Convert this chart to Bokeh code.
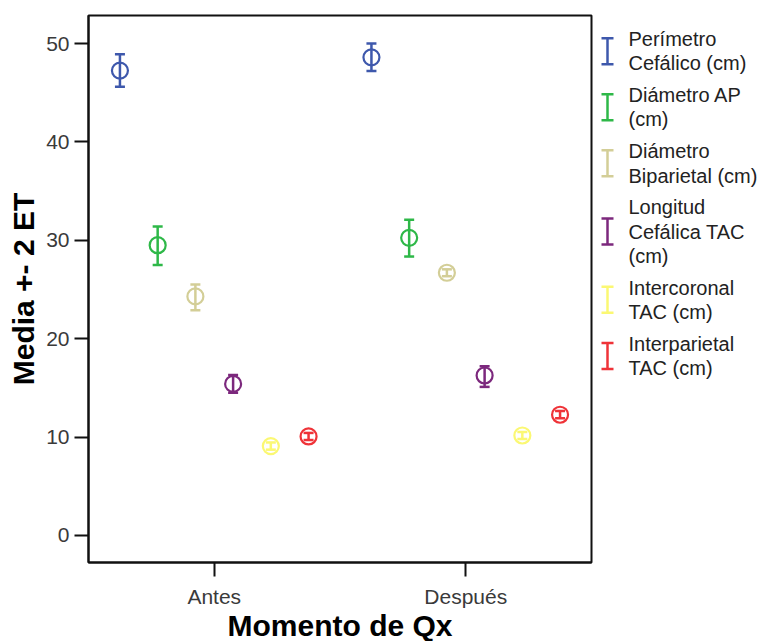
import numpy as np
from bokeh.plotting import figure
from bokeh.models import Range1d, Whisker, TeeHead, ColumnDataSource, FixedTicker
from bokeh.layouts import row, column
from bokeh.embed import file_html
from bokeh.resources import INLINE
from bokeh.core.properties import value

# ---- data ----
categories = ["Antes", "Después"]
series = ["Perímetro Cefálico (cm)", "Diámetro AP (cm)", "Diámetro Biparietal (cm)",
          "Longitud Cefálica TAC (cm)", "Intercoronal TAC (cm)", "Interparietal TAC (cm)"]
legend_lines = [["Perímetro", "Cefálico (cm)"], ["Diámetro AP", "(cm)"],
                ["Diámetro", "Biparietal (cm)"], ["Longitud", "Cefálica TAC", "(cm)"],
                ["Intercoronal", "TAC (cm)"], ["Interparietal", "TAC (cm)"]]
colors = ["#3E58AC", "#2EB848", "#D3CE97", "#7C287D", "#FBF873", "#EF3338"]

mean_antes = [47.25, 29.5, 24.3, 15.4, 9.08, 10.06]
low_antes = [45.6, 27.5, 22.9, 14.5, 8.72, 9.7]
high_antes = [48.9, 31.4, 25.5, 16.3, 9.45, 10.42]

mean_despues = [48.6, 30.25, 26.7, 16.26, 10.16, 12.27]
low_despues = [47.2, 28.35, 26.35, 15.1, 9.8, 11.9]
high_despues = [50.0, 32.1, 27.05, 17.2, 10.52, 12.64]

y_ticks = [0, 10, 20, 30, 40, 50]
x_title = "Momento de Qx"
y_title = "Media +- 2 ET"

FONT = "Liberation Sans"

# ---- layout constants (page pixels) ----
TOTAL_H = 641
TITLE_H = 31
PH = TOTAL_H - TITLE_H
FRAME_LEFT, FRAME_RIGHT = 88, 591
FRAME_TOP, FRAME_BOTTOM = 15, 562
PW = FRAME_RIGHT + 7

# ---- main plot ----
p = figure(width=PW, height=PH, x_range=Range1d(-0.5, 1.5), y_range=Range1d(-2.75, 52.85),
           toolbar_location=None, output_backend="svg",
           min_border_left=FRAME_LEFT, min_border_right=PW - FRAME_RIGHT,
           min_border_top=FRAME_TOP, min_border_bottom=PH - FRAME_BOTTOM)
p.grid.visible = False
p.outline_line_color = "#111111"
p.outline_line_width = 2
p.background_fill_color = "white"

offsets = (np.arange(len(series)) - (len(series) - 1) / 2) * 0.15
means = [mean_antes, mean_despues]
lows = [low_antes, low_despues]
highs = [high_antes, high_despues]

for i, (name, col) in enumerate(zip(series, colors)):
    xs = [c + offsets[i] for c in range(len(categories))]
    src = ColumnDataSource(dict(x=xs,
                                y=[means[c][i] for c in range(len(categories))],
                                lo=[lows[c][i] for c in range(len(categories))],
                                hi=[highs[c][i] for c in range(len(categories))]))
    w = Whisker(source=src, base="x", lower="lo", upper="hi", dimension="height",
                line_color=col, line_width=2.5,
                upper_head=TeeHead(size=10, line_color=col, line_width=2.5),
                lower_head=TeeHead(size=10, line_color=col, line_width=2.5))
    p.add_layout(w)
    p.scatter("x", "y", source=src, marker="circle", size=16, fill_alpha=0,
              line_color=col, line_width=2.2)

p.xaxis.ticker = FixedTicker(ticks=list(range(len(categories))))
p.xaxis.major_label_overrides = {i: c for i, c in enumerate(categories)}
p.yaxis.ticker = FixedTicker(ticks=y_ticks)
for ax in [p.xaxis, p.yaxis]:
    ax.axis_line_width = 2
    ax.axis_line_color = "#111111"
    ax.major_tick_line_width = 2
    ax.major_tick_line_color = "#111111"
    ax.major_tick_out = 14
    ax.major_tick_in = 0
    ax.minor_tick_line_color = None
    ax.major_label_text_font = FONT
    ax.major_label_text_font_size = "21px"
    ax.major_label_text_color = "#3a3a3a"
    ax.axis_label_text_font = FONT
    ax.axis_label_text_font_style = "bold"
    ax.axis_label_text_font_size = "30px"
    ax.axis_label_text_color = "black"
p.yaxis.axis_label = y_title
p.xaxis.major_label_standoff = 8
p.yaxis.major_label_standoff = 5
p.yaxis.axis_label_standoff = 3

# ---- x-axis title strip below the plot ----
tfig = figure(width=PW, height=TITLE_H, x_range=Range1d(FRAME_LEFT, FRAME_RIGHT),
              y_range=Range1d(TITLE_H, 0), toolbar_location=None, output_backend="svg",
              x_axis_type=None, y_axis_type=None,
              min_border_left=FRAME_LEFT, min_border_right=PW - FRAME_RIGHT,
              min_border_top=0, min_border_bottom=0)
tfig.grid.visible = False
tfig.outline_line_color = None
tfig.text(x=[(FRAME_LEFT + FRAME_RIGHT) / 2], y=[625 - PH], text=[x_title],
          text_align="center", text_baseline="middle", text_font=value(FONT),
          text_font_style="bold", text_font_size="30px", text_color="black")

# ---- legend panel (coordinates in page pixels; frame aligned with main frame) ----
LW = 159
leg = figure(width=LW, height=PH, x_range=Range1d(0, LW), y_range=Range1d(FRAME_BOTTOM, FRAME_TOP),
             toolbar_location=None, output_backend="svg", x_axis_type=None, y_axis_type=None,
             min_border=0)
leg.grid.visible = False
leg.outline_line_color = None

line_h = 24.3
y0 = 38.5
tx, ty, tt = [], [], []
for i, (lines, col) in enumerate(zip(legend_lines, colors)):
    for k, ln in enumerate(lines):
        tx.append(30)
        ty.append(y0 + k * line_h)
        tt.append(ln)
    yc = y0 + (len(lines) - 1) * line_h / 2
    leg.segment(x0=[9, 3, 3], y0=[yc - 13, yc - 13, yc + 13], x1=[9, 15, 15],
                y1=[yc + 13, yc - 13, yc + 13], line_color=col, line_width=2.5)
    y0 += len(lines) * line_h + 7.5

leg.text(x=tx, y=ty, text=tt, text_baseline="middle", text_align="left",
         text_font=value(FONT), text_font_size="20px", text_color="#222222")

layout = column(row(p, leg), tfig)
open("out.html", "w").write(file_html(layout, INLINE))
